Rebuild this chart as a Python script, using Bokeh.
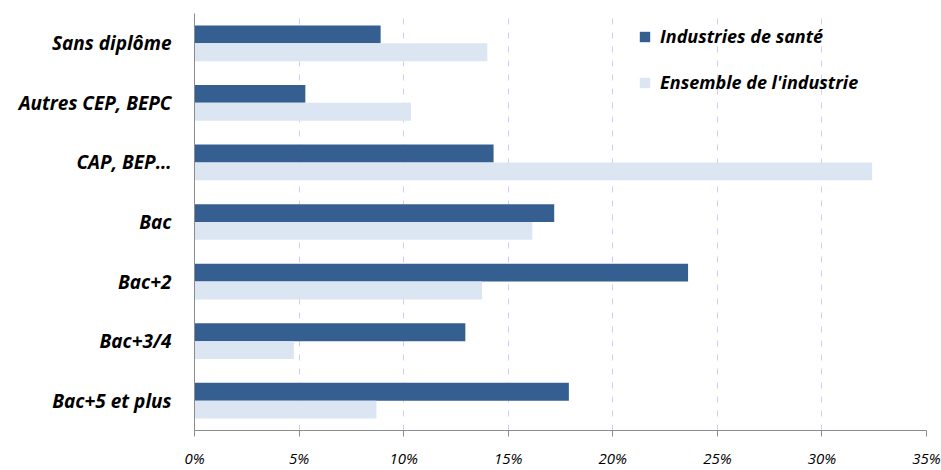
from bokeh.plotting import figure
from bokeh.models import FixedTicker, NumeralTickFormatter, Legend, LegendItem, ColumnDataSource, Range1d
from bokeh.embed import file_html
from bokeh.resources import INLINE

categories = ["Sans diplôme", "Autres CEP, BEPC", "CAP, BEP…", "Bac", "Bac+2", "Bac+3/4", "Bac+5 et plus"]
sante = [8.9, 5.3, 14.3, 17.2, 23.6, 12.95, 17.9]
ensemble = [14.0, 10.35, 32.4, 16.15, 13.75, 4.75, 8.7]
series_names = ["Industries de santé", "Ensemble de l'industrie"]
x_ticks = [0, 5, 10, 15, 20, 25, 30, 35]

n = len(categories)
ypos = [n - 1 - i for i in range(n)]

src = ColumnDataSource(dict(
    y1=[y + 0.15 for y in ypos],
    y2=[y - 0.15 for y in ypos],
    s=[v / 100 for v in sante],
    e=[v / 100 for v in ensemble],
))

p = figure(width=941, height=470, output_backend="svg", toolbar_location=None,
           x_range=Range1d(0, 0.35), y_range=Range1d(-0.5, n - 0.5),
           min_border_left=194, min_border_right=15, min_border_top=13, min_border_bottom=30)
p.outline_line_color = None

r1 = p.hbar(y="y1", right="s", left=0, height=0.3, source=src, fill_color="#365F91", line_color=None)
r2 = p.hbar(y="y2", right="e", left=0, height=0.3, source=src, fill_color="#DCE6F2", line_color=None)

FONT = "Open Sans"

p.xaxis.ticker = FixedTicker(ticks=[t / 100 for t in x_ticks])
p.xaxis.formatter = NumeralTickFormatter(format="0%")
p.xaxis.major_label_text_font = FONT
p.xaxis.major_label_text_font_style = "italic"
p.xaxis.major_label_text_font_size = "15px"
p.xaxis.major_label_text_color = "#000000"
p.xaxis.major_tick_in = 0
p.xaxis.major_tick_out = 6
p.xaxis.major_label_standoff = 11
p.xaxis.minor_tick_line_color = None
p.xaxis.axis_line_color = "#8c8c8c"
p.xaxis.major_tick_line_color = "#8c8c8c"

p.yaxis.ticker = FixedTicker(ticks=ypos)
p.yaxis.major_label_overrides = {y: c for y, c in zip(ypos, categories)}
p.yaxis.major_label_text_font = FONT
p.yaxis.major_label_text_font_style = "bold italic"
p.yaxis.major_label_text_font_size = "19px"
p.yaxis.major_label_text_color = "#000000"
p.yaxis.major_tick_line_color = None
p.yaxis.minor_tick_line_color = None
p.yaxis.major_label_standoff = 17
p.yaxis.axis_line_color = "#8c8c8c"

p.ygrid.grid_line_color = None
p.xgrid.grid_line_color = "#CCCCFF"
p.xgrid.grid_line_dash = "6 8"
p.xgrid.grid_line_width = 1

legend = Legend(items=[LegendItem(label=series_names[0], renderers=[r1]),
                       LegendItem(label=series_names[1], renderers=[r2])],
                location=(444, 336))
legend.background_fill_alpha = 0
legend.border_line_color = None
legend.padding = 0
legend.margin = 0
legend.glyph_width = 13
legend.glyph_height = 13
legend.label_height = 22
legend.spacing = 22
legend.label_standoff = 9
legend.label_text_font = FONT
legend.label_text_font_style = "bold italic"
legend.label_text_font_size = "18px"
legend.label_text_color = "#000000"
p.add_layout(legend, "center")

open("out.html", "w").write(file_html(p, INLINE))
